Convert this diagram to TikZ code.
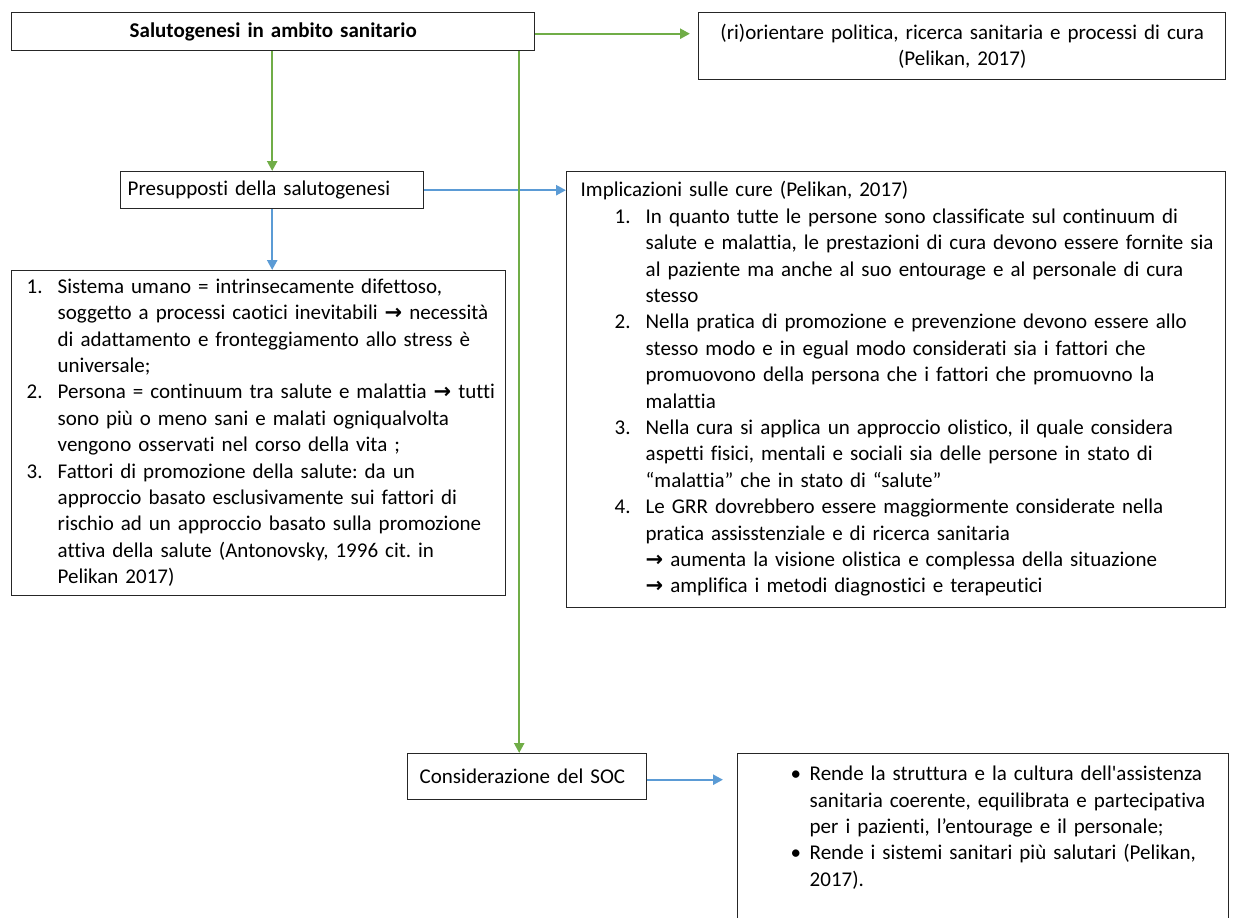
\documentclass[tikz,border=0pt]{standalone}
\usepackage{fontspec}
\setmainfont{Carlito}[Ligatures={TeX,NoCommon}]
\newfontfamily\arrowfont{DejaVu Sans}
\usepackage{array}
\usetikzlibrary{arrows.meta, positioning}
\definecolor{salgreen}{RGB}{112, 173, 71}
\definecolor{salblue}{RGB}{91, 155, 213}
\newcommand{\bodysize}{\fontsize{10.5pt}{13.2pt}\selectfont\frenchspacing}
\newcommand{\rarr}{{\arrowfont\bfseries\fontsize{10.5pt}{11pt}\selectfont →}}

\begin{document}
\begin{tikzpicture}[
    x=0.5pt, y=-0.5pt,
    box/.style={draw=black!85, line width=0.7pt, inner sep=0pt, anchor=north west, font=\bodysize},
    titlebox/.style={box, align=center},
    listbox/.style={box, align=left},
    garrow/.style={draw=salgreen, line width=1.2pt, -{Triangle[length=5pt, width=5pt]}},
    barrow/.style={draw=salblue, line width=1.2pt, -{Triangle[length=5pt, width=5pt]}}
]
\useasboundingbox (0,0) rectangle (1238,917);
\clip (0,0) rectangle (1238,917);

% Top row
\node[titlebox, font=\bodysize\bfseries, text width=261.5pt, minimum height=19pt] (top) at (11,12) {Salutogenesi in ambito sanitario};
\node[titlebox, text width=263.5pt, minimum height=33.5pt] (rio) at (698,12) {(ri)orientare politica, ricerca sanitaria e processi di cura\\(Pelikan, 2017)};

% Presupposti
\node[listbox, text width=151.5pt, minimum height=18.5pt] (pres) at (120,171) {\hspace*{3.5pt}Presupposti della salutogenesi};

\node[listbox, text width=247pt, minimum height=162.5pt] (lst) at (11,270) {%
\begin{tabular}{@{\hspace{7.5pt}}p{15.5pt}@{}l@{}}
1. & Sistema umano = intrinsecamente difettoso,\\
   & soggetto a processi caotici inevitabili \rarr{} necessità\\
   & di adattamento e fronteggiamento allo stress è\\
   & universale;\\
2. & Persona = continuum tra salute e malattia \rarr{} tutti\\
   & sono più o meno sani e malati ogniqualvolta\\
   & vengono osservati nel corso della vita ;\\
3. & Fattori di promozione della salute: da un\\
   & approccio basato esclusivamente sui fattori di\\
   & rischio ad un approccio basato sulla promozione\\
   & attiva della salute (Antonovsky, 1996 cit. in\\
   & Pelikan 2017)
\end{tabular}};

\node[listbox, text width=329.5pt, minimum height=218pt] (impl) at (566,171) {%
\begin{tabular}{@{\hspace{7pt}}p{17pt}@{}p{15.5pt}@{}l@{}}
\multicolumn{3}{@{\hspace{7pt}}l@{}}{Implicazioni sulle cure (Pelikan, 2017)}\\
 & 1. & In quanto tutte le persone sono classificate sul continuum di\\
 &    & salute e malattia, le prestazioni di cura devono essere fornite sia\\
 &    & al paziente ma anche al suo entourage e al personale di cura\\
 &    & stesso\\
 & 2. & Nella pratica di promozione e prevenzione devono essere allo\\
 &    & stesso modo e in egual modo considerati sia i fattori che\\
 &    & promuovono della persona che i fattori che promuovno la\\
 &    & malattia\\
 & 3. & Nella cura si applica un approccio olistico, il quale considera\\
 &    & aspetti fisici, mentali e sociali sia delle persone in stato di\\
 &    & “malattia” che in stato di “salute”\\
 & 4. & Le GRR dovrebbero essere maggiormente considerate nella\\
 &    & pratica assisstenziale e di ricerca sanitaria\\
 &    & \rarr{} aumenta la visione olistica e complessa della situazione\\
 &    & \rarr{} amplifica i metodi diagnostici e terapeutici
\end{tabular}};

% SOC
\node[listbox, text width=119.5pt, minimum height=23pt] (soc) at (407,753) {\hspace*{6pt}Considerazione del SOC\\[3pt]};

\node[listbox, text width=245.5pt, inner ysep=4.3pt, text depth=100pt] (rende) at (737,753) {%
\begin{tabular}[t]{@{\hspace{26.5pt}}p{9.5pt}@{}l@{}}
\textbullet & Rende la struttura e la cultura dell\textquotesingle assistenza\\
            & sanitaria coerente, equilibrata e partecipativa\\
            & per i pazienti, l’entourage e il personale;\\
\textbullet & Rende i sistemi sanitari più salutari (Pelikan,\\
            & 2017).
\end{tabular}};

% Arrows
\draw[barrow] (pres.east) -- (pres.east -| impl.west);
\draw[barrow] (pres.south) -- (pres.south |- lst.north);
\draw[barrow, shorten >=7pt] ([yshift=-1.5pt]soc.east) -- ([yshift=-1.5pt]soc.east -| rende.west);
\draw[garrow] (pres.north |- top.south) -- (pres.north);
\draw[garrow, shorten >=4pt] ([yshift=-1pt]top.east) -- ([yshift=-1pt]top.east -| rio.west);
\coordinate (socin) at ([xshift=-4pt]soc.north);
\draw[garrow] (top.south -| socin) -- (socin);

\end{tikzpicture}
\end{document}
